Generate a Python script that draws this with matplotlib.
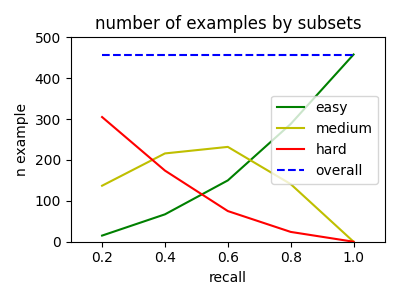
import matplotlib
matplotlib.use("Agg")
import matplotlib.pyplot as plt

recall = [0.2, 0.4, 0.6, 0.8, 1.0]
easy = [15, 67, 150, 288, 458]
medium = [137, 216, 232, 141, 0]
hard = [305, 174, 75, 24, 0]
overall = [458, 458, 458, 458, 458]

fig, ax = plt.subplots(figsize=(4, 3), dpi=100)
ax.plot(recall, easy, "g-", label="easy")
ax.plot(recall, medium, "y-", label="medium")
ax.plot(recall, hard, "r-", label="hard")
ax.plot(recall, overall, "b--", label="overall")
ax.set_xlim(0.1, 1.1)
ax.set_ylim(0, 500)
ax.set_xticks(recall)
ax.set_xlabel("recall")
ax.set_ylabel("n example")
ax.set_title("number of examples by subsets")
ax.legend(loc="center right")
fig.tight_layout()
fig.savefig("out.png", dpi=100)
